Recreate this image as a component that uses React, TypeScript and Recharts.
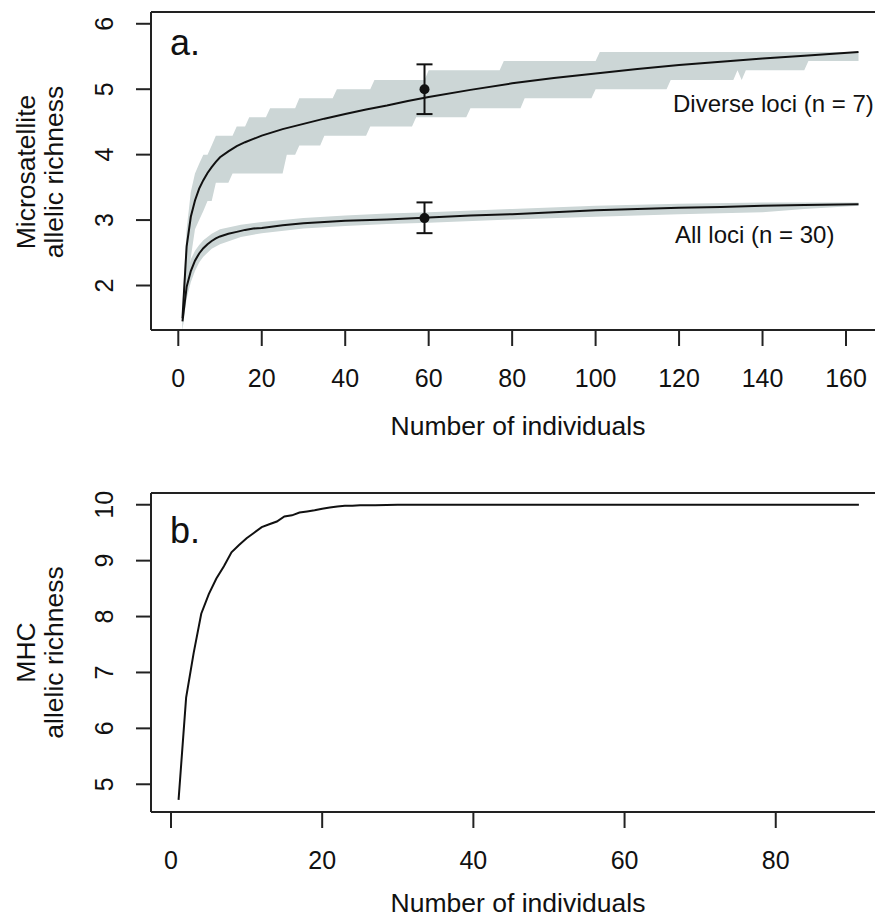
import { ComposedChart, Area, Line, Scatter, ErrorBar, XAxis, YAxis, ReferenceLine, Customized } from 'recharts'

// panel a: rarefaction curves (mean) for microsatellites
const diverseX = [1, 2, 3, 4, 5, 6, 7, 8, 9, 10, 12, 14, 16, 18, 20, 25, 30, 35, 40, 45, 50, 55, 60, 70, 80, 90, 100, 110, 120, 130, 140, 150, 163]
const diverseY = [1.5, 2.6, 3.05, 3.3, 3.48, 3.61, 3.72, 3.81, 3.89, 3.96, 4.05, 4.13, 4.19, 4.24, 4.29, 4.39, 4.47, 4.55, 4.62, 4.69, 4.75, 4.82, 4.88, 4.99, 5.09, 5.17, 5.24, 5.31, 5.37, 5.42, 5.47, 5.51, 5.57]

const allX = [1, 2, 3, 4, 5, 6, 7, 8, 9, 10, 12, 14, 16, 18, 20, 25, 30, 40, 50, 60, 70, 80, 90, 100, 110, 120, 130, 140, 150, 163]
const allY = [1.45, 1.98, 2.22, 2.38, 2.49, 2.57, 2.63, 2.68, 2.72, 2.75, 2.79, 2.82, 2.85, 2.87, 2.88, 2.92, 2.95, 2.99, 3.01, 3.04, 3.07, 3.09, 3.12, 3.15, 3.17, 3.19, 3.2, 3.22, 3.23, 3.24]

// shaded ranges (stepped, values in sevenths for the 7 diverse loci)
const diverseBandX = [1, 2, 3, 4, 5, 6, 7, 8, 9, 12, 13, 14, 16, 17, 21, 22, 25, 26, 28, 29, 34, 35, 37, 38, 45, 46, 47, 56, 57, 59, 60, 69, 70, 77, 78, 82, 83, 99, 100, 101, 117, 118, 133, 134, 135, 136, 150, 151, 163]
const diverseBandLo = [1.29, 2.0, 2.43, 2.86, 3.0, 3.14, 3.29, 3.29, 3.57, 3.57, 3.71, 3.71, 3.71, 3.71, 3.71, 3.71, 3.71, 4.0, 4.0, 4.14, 4.14, 4.29, 4.29, 4.29, 4.29, 4.43, 4.43, 4.43, 4.57, 4.57, 4.57, 4.57, 4.71, 4.71, 4.71, 4.71, 4.86, 4.86, 5.0, 5.0, 5.0, 5.14, 5.14, 5.29, 5.14, 5.29, 5.29, 5.43, 5.43]
const diverseBandHi = [1.71, 2.86, 3.43, 3.71, 3.86, 4.0, 4.0, 4.14, 4.29, 4.29, 4.29, 4.43, 4.43, 4.57, 4.57, 4.71, 4.71, 4.71, 4.71, 4.86, 4.86, 4.86, 4.86, 5.0, 5.0, 5.0, 5.14, 5.14, 5.14, 5.14, 5.29, 5.29, 5.29, 5.29, 5.43, 5.43, 5.43, 5.43, 5.43, 5.57, 5.57, 5.57, 5.57, 5.57, 5.57, 5.57, 5.57, 5.57, 5.57]

const allBandX = [1, 2, 3, 4, 5, 6, 8, 10, 15, 20, 30, 40, 50, 60, 80, 100, 120, 140, 150, 163]
const allBandLo = [1.33, 1.8, 2.05, 2.22, 2.35, 2.44, 2.56, 2.63, 2.74, 2.8, 2.87, 2.91, 2.94, 2.96, 3.01, 3.05, 3.09, 3.12, 3.17, 3.22]
const allBandHi = [1.57, 2.17, 2.4, 2.53, 2.62, 2.69, 2.79, 2.86, 2.93, 2.97, 3.03, 3.07, 3.1, 3.12, 3.17, 3.22, 3.25, 3.27, 3.27, 3.27]

// observed values at n = 59 with error bars
const observed = [
  { x: 59, y: 5.0, err: [0.38, 0.38] },
  { x: 59, y: 3.03, err: [0.23, 0.24] },
]

// panel b: MHC
const mhcX = [1, 2, 3, 4, 5, 6, 7, 8, 9, 10, 11, 12, 13, 14, 15, 16, 17, 18, 19, 20, 21, 22, 23, 24, 25, 27, 30, 40, 50, 60, 70, 80, 91]
const mhcY = [4.72, 6.55, 7.35, 8.05, 8.4, 8.68, 8.9, 9.15, 9.28, 9.4, 9.5, 9.6, 9.65, 9.7, 9.79, 9.81, 9.86, 9.88, 9.9, 9.93, 9.95, 9.97, 9.98, 9.98, 9.99, 9.99, 10, 10, 10, 10, 10, 10, 10]

const topXTicks = [0, 20, 40, 60, 80, 100, 120, 140, 160]
const topYTicks = [2, 3, 4, 5, 6]
const bottomXTicks = [0, 20, 40, 60, 80]
const bottomYTicks = [5, 6, 7, 8, 9, 10]

const toPoints = (xs: number[], ys: number[]) => xs.map((x, i) => ({ x, y: ys[i] }))
const toBand = (xs: number[], lo: number[], hi: number[]) => xs.map((x, i) => ({ x, band: [lo[i], hi[i]] }))

const INK = '#111'
const BAND = '#CCD6D6'
const FONT = '"Liberation Sans", Arial, Helvetica, sans-serif'

const RotatedTick = ({ x, y, payload }: any) => (
  <text transform={`translate(${x - 21},${y}) rotate(-90)`} textAnchor="middle" fontSize={25} fill={INK}>
    {payload.value}
  </text>
)

const axisStroke = { stroke: '#222', strokeWidth: 2 }

function YTitle({ lines, cy }: { lines: string[]; cy: number }) {
  return (
    <g>
      <text transform={`translate(35,${cy}) rotate(-90)`} textAnchor="middle" fontSize={26.5} fill={INK}>{lines[0]}</text>
      <text transform={`translate(63,${cy}) rotate(-90)`} textAnchor="middle" fontSize={26.5} fill={INK}>{lines[1]}</text>
    </g>
  )
}

function TopPanel() {
  return (
    <ComposedChart width={875} height={460} margin={{ top: 12, right: 0, bottom: 0, left: 0 }}>
      <XAxis dataKey="x" type="number" domain={[-6.54, 166.95]} allowDataOverflow ticks={topXTicks} interval={0}
        tickSize={16} tickMargin={23} height={130} axisLine={axisStroke} tickLine={axisStroke} tick={{ fontSize: 25, fill: INK }} />
      <YAxis type="number" domain={[1.32, 6.18]} allowDataOverflow ticks={topYTicks} interval={0}
        tickSize={15} width={151} axisLine={axisStroke} tickLine={axisStroke} tick={<RotatedTick />} />
      <ReferenceLine y={6.18} stroke="#222" strokeWidth={2} />
      <Area data={toBand(diverseBandX, diverseBandLo, diverseBandHi)} dataKey="band" type="linear" stroke="none" fill={BAND} fillOpacity={1} isAnimationActive={false} />
      <Area data={toBand(allBandX, allBandLo, allBandHi)} dataKey="band" type="linear" stroke="none" fill={BAND} fillOpacity={1} isAnimationActive={false} />
      <Line data={toPoints(diverseX, diverseY)} dataKey="y" type="linear" stroke={INK} strokeWidth={2} dot={false} isAnimationActive={false} />
      <Line data={toPoints(allX, allY)} dataKey="y" type="linear" stroke={INK} strokeWidth={2} dot={false} isAnimationActive={false} />
      <Scatter data={observed} dataKey="y" isAnimationActive={false}
        shape={(p: any) => <circle cx={p.cx} cy={p.cy} r={5} fill={INK} />}>
        <ErrorBar dataKey="err" direction="y" width={8} stroke={INK} strokeWidth={2} />
      </Scatter>
      <Customized component={() => (
        <g fontFamily={FONT} fill={INK}>
          <text x={170} y={55} fontSize={36}>a.</text>
          <text x={673} y={111.5} fontSize={24}>Diverse loci (n = 7)</text>
          <text x={675} y={243} fontSize={24}>All loci (n = 30)</text>
          <text x={518} y={435} textAnchor="middle" fontSize={26.5}>Number of individuals</text>
          <YTitle lines={['Microsatellite', 'allelic richness']} cy={172} />
        </g>
      )} />
    </ComposedChart>
  )
}

function BottomPanel() {
  return (
    <ComposedChart width={875} height={449} margin={{ top: 23, right: 0, bottom: 0, left: 0 }}>
      <XAxis dataKey="x" type="number" domain={[-2.646, 93.13]} allowDataOverflow ticks={bottomXTicks} interval={0}
        tickSize={16} tickMargin={23} height={107} axisLine={axisStroke} tickLine={axisStroke} tick={{ fontSize: 25, fill: INK }} />
      <YAxis type="number" domain={[4.504, 10.21]} allowDataOverflow ticks={bottomYTicks} interval={0}
        tickSize={15} width={151} axisLine={axisStroke} tickLine={axisStroke} tick={<RotatedTick />} />
      <ReferenceLine y={10.21} stroke="#222" strokeWidth={2} />
      <Line data={toPoints(mhcX, mhcY)} dataKey="y" type="linear" stroke={INK} strokeWidth={2} dot={false} isAnimationActive={false} />
      <Customized component={() => (
        <g fontFamily={FONT} fill={INK}>
          <text x={170} y={73.3} fontSize={36}>b.</text>
          <text x={518} y={442} textAnchor="middle" fontSize={26.5}>Number of individuals</text>
          <YTitle lines={['MHC', 'allelic richness']} cy={182.5} />
        </g>
      )} />
    </ComposedChart>
  )
}

export default function App() {
  return (
    <div style={{ position: 'absolute', left: 0, top: 0, width: 875, height: 919, overflow: 'hidden', background: '#fff', fontFamily: FONT }}>
      <div style={{ position: 'absolute', left: 0, top: 0 }}>
        <TopPanel />
      </div>
      <div style={{ position: 'absolute', left: 0, top: 470 }}>
        <BottomPanel />
      </div>
    </div>
  )
}
